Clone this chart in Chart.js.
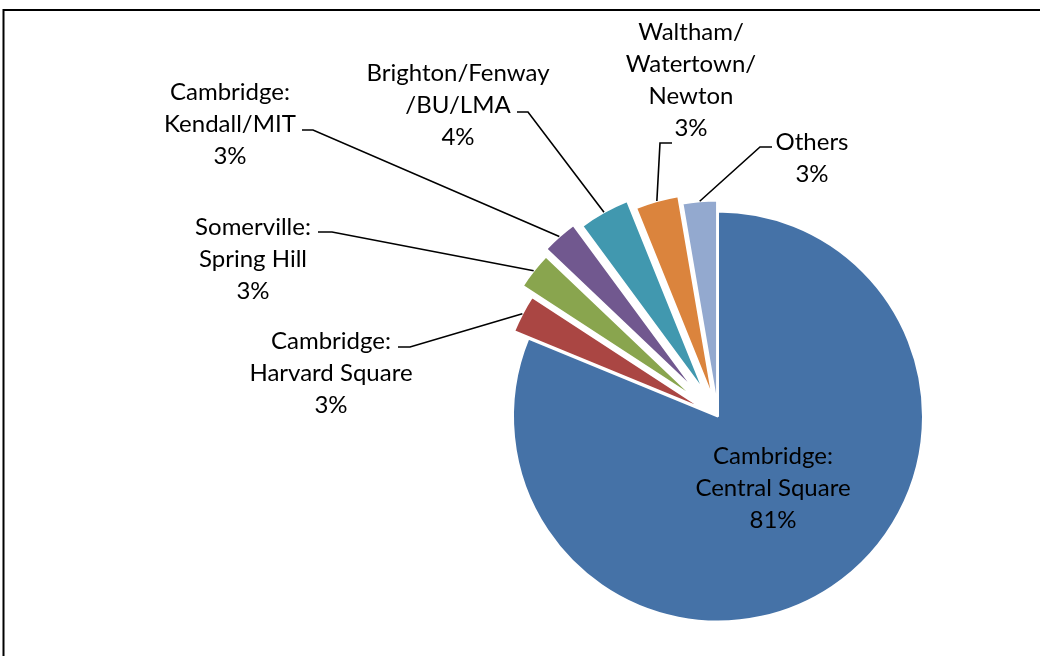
<!DOCTYPE html>
<html>
<head>
<meta charset="utf-8">
<title>Neighborhoods</title>
<script src="https://cdn.jsdelivr.net/npm/chart.js@4.4.1/dist/chart.umd.min.js"></script>
<style>
    html, body { margin: 0; padding: 0; background: #fff; }
    #container { position: relative; width: 1040px; height: 656px; overflow: hidden; }
</style>
</head>
<body>
<div id="container"><canvas id="chart" width="1040" height="656"></canvas></div>
<script>
// data (share of answers, %)
const categories = [
    ['Cambridge:', 'Central Square'],
    ['Cambridge:', 'Harvard Square'],
    ['Somerville:', 'Spring Hill'],
    ['Cambridge:', 'Kendall/MIT'],
    ['Brighton/Fenway', '/BU/LMA'],
    ['Waltham/', 'Watertown/', 'Newton'],
    ['Others']
];
const values = [81.2, 3.0, 2.9, 2.8, 4.0, 3.4, 2.7];

const colors = ['#4572A7', '#AA4643', '#89A54E', '#71588F', '#4198AF', '#DB843D', '#93A9CF'];

// how far each slice is pulled out, px
const explode = [0, 16, 30, 35, 29, 19, 11];

const RADIUS = 205;
const LINE_H = 32;
const FONT = '24px Lato';

// where the label text sits (centre x, first line y) and where its leader starts
const labelBoxes = [
    { x: 773, y: 456 },
    { x: 331, y: 341, from: [398, 347], elbow: 410 },
    { x: 253, y: 227, from: [318, 232], elbow: 332 },
    { x: 230, y: 92, from: [302, 130], elbow: 313 },
    { x: 458, y: 73, from: [517, 112], elbow: 528 },
    { x: 691, y: 32, from: [672, 143], elbow: 660 },
    { x: 812, y: 142, from: [772, 147], elbow: 760 }
];

const total = values.reduce((a, b) => a + b, 0);
const percent = v => Math.round(v / total * 100) + '%';

const midAngle = arc => (arc.startAngle + arc.endAngle) / 2;

const pieExtras = {
    id: 'pieExtras',
    afterDatasetsUpdate: chart => {
        // pull slices out like excel does: move the whole slice, keep its radius and angle
        chart.getDatasetMeta(0).data.forEach((arc, i) => {
            const mid = midAngle(arc);
            arc.x += Math.cos(mid) * explode[i];
            arc.y += Math.sin(mid) * explode[i];
        });
    },
    afterDraw: chart => {
        const ctx = chart.ctx;
        const arcs = chart.getDatasetMeta(0).data;

        ctx.save();

        // frame
        ctx.strokeStyle = '#000';
        ctx.lineWidth = 2;
        ctx.strokeRect(3.5, 10, 1100, 700);

        // leader lines
        ctx.lineWidth = 1.6;
        arcs.forEach((arc, i) => {
            const box = labelBoxes[i];
            if (!box.from) return;
            const mid = midAngle(arc);
            const ex = arc.x + Math.cos(mid) * RADIUS;
            const ey = arc.y + Math.sin(mid) * RADIUS;
            ctx.beginPath();
            ctx.moveTo(box.from[0], box.from[1]);
            ctx.lineTo(box.elbow, box.from[1]);
            ctx.lineTo(ex, ey);
            ctx.stroke();
        });

        // labels
        ctx.fillStyle = '#000';
        ctx.font = FONT;
        ctx.textAlign = 'center';
        ctx.textBaseline = 'middle';
        categories.forEach((lines, i) => {
            const box = labelBoxes[i];
            lines.concat([percent(values[i])]).forEach((line, k) => {
                ctx.fillText(line, box.x, box.y + k * LINE_H);
            });
        });

        ctx.restore();
    }
};

const ctx = document.getElementById('chart').getContext('2d');
const pieChart = new Chart(ctx, {
    type: 'pie',
    data: {
        labels: categories,
        datasets: [{
            data: values,
            backgroundColor: colors,
            borderColor: '#fff',
            borderWidth: 2
        }]
    },
    options: {
        responsive: false,
        animation: false,
        events: [],
        radius: RADIUS,
        layout: { padding: { left: 396, top: 177, right: 0, bottom: 0 } },
        plugins: {
            legend: { display: false },
            tooltip: { enabled: false }
        }
    },
    plugins: [pieExtras]
});
</script>
</body>
</html>
